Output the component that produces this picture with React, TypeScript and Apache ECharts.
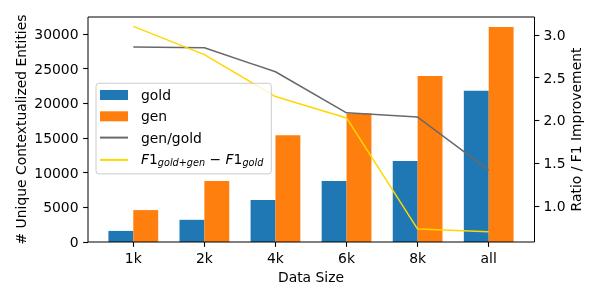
import React, { useEffect, useRef } from "react";
import * as echarts from "echarts";

const categories = ["1k", "2k", "4k", "6k", "8k", "all"];
const goldCounts = [1600, 3200, 6050, 8800, 11700, 21800];
const genCounts = [4600, 8800, 15400, 18550, 23950, 31000];
const genGoldRatio = [2.86, 2.85, 2.57, 2.09, 2.04, 1.42];
const f1Improvement = [3.1, 2.77, 2.28, 2.03, 0.73, 0.7];
const leftTicks = [0, 5000, 10000, 15000, 20000, 25000, 30000];
const rightTicks = [1.0, 1.5, 2.0, 2.5, 3.0];

const F1_NAME = "F1_gold+gen - F1_gold";
const FONT = "DejaVu Sans";
const FS = 13.9;
const LINE_ICON = "path://M0 0H28V2H0Z";

export default function App() {
  const ref = useRef<HTMLDivElement>(null);
  useEffect(() => {
    if (!ref.current) return;
    const chart = echarts.init(ref.current, undefined, { renderer: "svg" });
    const plotLeft = 88;
    const plotRight = 534.5;
    const plotTop = 17;
    const plotBottom = 242;
    const band = 71.07;
    const gridLeft = 133.3 - band / 2;
    const gridRight = 488.7 + band / 2;
    const txt = { color: "#000", fontFamily: FONT, fontSize: FS };
    const tick = { show: true, length: 4.86, lineStyle: { color: "#000", width: 1.1 } };
    chart.setOption({
      animation: false,
      textStyle: { fontFamily: FONT },
      grid: {
        left: gridLeft,
        right: 600 - gridRight,
        top: plotTop,
        bottom: 300 - plotBottom,
        containLabel: false,
      },
      legend: {
        orient: "vertical",
        left: 96,
        top: 83.3,
        z: 20,
        padding: [4.7, 8, 6, 4],
        itemWidth: 28,
        itemHeight: 10,
        itemGap: 7.3,
        backgroundColor: "rgba(255,255,255,0.8)",
        borderColor: "#cccccc",
        borderWidth: 1,
        borderRadius: 3,
        textStyle: {
          ...txt,
          lineHeight: 14,
          padding: [0, 0, 0, 8],
          rich: {
            m: { fontFamily: FONT, fontSize: FS, fontStyle: "italic", lineHeight: 16, verticalAlign: "top", color: "#000" },
            n: { fontFamily: FONT, fontSize: FS, lineHeight: 16, verticalAlign: "top", color: "#000" },
            s: { fontFamily: FONT, fontSize: 9.7, fontStyle: "italic", lineHeight: 8, verticalAlign: "bottom", color: "#000" },
          },
        },
        formatter: (name: string) =>
          name === F1_NAME
            ? "{m|F}{n|1}{s|gold+gen}{n| − }{m|F}{n|1}{s|gold}"
            : name,
        data: [
          { name: "gold", icon: "rect" },
          { name: "gen", icon: "rect" },
          { name: "gen/gold", icon: LINE_ICON },
          { name: F1_NAME, icon: LINE_ICON },
        ],
      },
      xAxis: {
        type: "category",
        data: categories,
        axisLine: { show: false },
        axisTick: { ...tick, alignWithLabel: true },
        axisLabel: { ...txt, margin: 8.5 },
        name: "Data Size",
        nameLocation: "middle",
        nameGap: 28,
        nameMoveOverlap: false,
        nameTextStyle: txt,
      },
      yAxis: [
        {
          type: "value",
          position: "left",
          offset: gridLeft - plotLeft,
          min: 0,
          max: 32450,
          axisLine: { show: false },
          axisTick: { ...tick, customValues: leftTicks },
          axisLabel: { ...txt, margin: 9.5, customValues: leftTicks, formatter: (v: number) => String(v) },
          splitLine: { show: false },
          name: "# Unique Contextualized Entities",
          nameLocation: "middle",
          nameRotate: 90,
          nameGap: 60,
          nameMoveOverlap: false,
          nameTextStyle: txt,
        },
        {
          type: "value",
          position: "right",
          offset: plotRight - gridRight,
          min: 0.579,
          max: 3.21,
          axisLine: { show: false },
          axisTick: { ...tick, customValues: rightTicks },
          axisLabel: { ...txt, margin: 9, customValues: rightTicks, formatter: (v: number) => v.toFixed(1) },
          splitLine: { show: false },
          name: "Ratio / F1 Improvement",
          nameLocation: "middle",
          nameRotate: 90,
          nameGap: 34.5,
          nameMoveOverlap: false,
          nameTextStyle: txt,
        },
      ],
      series: [
        {
          name: "gold",
          type: "bar",
          data: goldCounts,
          barWidth: 0.35 * band,
          barGap: "0%",
          itemStyle: { color: "#1f77b4" },
        },
        {
          name: "gen",
          type: "bar",
          data: genCounts,
          barWidth: 0.35 * band,
          barGap: "0%",
          itemStyle: { color: "#ff7f0e" },
        },
        {
          name: "gen/gold",
          type: "line",
          yAxisIndex: 1,
          data: genGoldRatio,
          symbol: "none",
          lineStyle: { color: "#696969", width: 1.5 },
          itemStyle: { color: "#696969" },
        },
        {
          name: F1_NAME,
          type: "line",
          yAxisIndex: 1,
          data: f1Improvement,
          symbol: "none",
          lineStyle: { color: "#ffd700", width: 1.5 },
          itemStyle: { color: "#ffd700" },
        },
      ],
      graphic: [
        {
          type: "rect",
          z: 30,
          silent: true,
          shape: { x: plotLeft, y: plotTop, width: plotRight - plotLeft, height: plotBottom - plotTop },
          style: { fill: "none", stroke: "#000", lineWidth: 1 },
        },
      ],
    });
    return () => chart.dispose();
  }, []);
  return (
    <div
      ref={ref}
      style={{ position: "fixed", left: 0, top: 0, width: 600, height: 300 }}
    />
  );
}
